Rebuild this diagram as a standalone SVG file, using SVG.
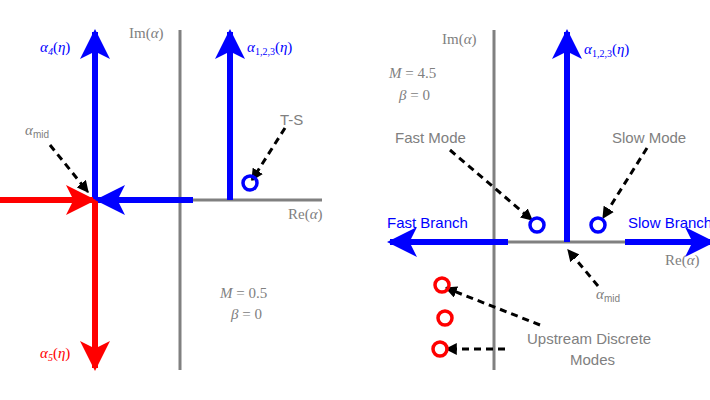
<svg xmlns="http://www.w3.org/2000/svg" width="710" height="400" viewBox="0 0 710 400">
<defs>
<marker id="hb" viewBox="0 0 10 10" refX="9" refY="5" markerWidth="5" markerHeight="5" markerUnits="strokeWidth" orient="auto"><path d="M0,0 L10,5 L0,10 L2.5,5 z" fill="#0000ff"/></marker>
<marker id="hr" viewBox="0 0 10 10" refX="9" refY="5" markerWidth="5" markerHeight="5" markerUnits="strokeWidth" orient="auto"><path d="M0,0 L10,5 L0,10 L2.5,5 z" fill="#ff0000"/></marker>
<marker id="hk" viewBox="0 0 10 10" refX="9" refY="5" markerWidth="4" markerHeight="4" markerUnits="strokeWidth" orient="auto"><path d="M0,0 L10,5 L0,10 z" fill="#000"/></marker>
</defs>
<style>
.ax{stroke:#808080;stroke-width:3;fill:none}
.b{stroke:#0000ff;stroke-width:6;fill:none}
.r{stroke:#ff0000;stroke-width:6;fill:none}
.d{stroke:#000;stroke-width:3;stroke-dasharray:7,5;fill:none}
.cb{stroke:#0000ff;stroke-width:3.5;fill:none}
.cr{stroke:#ff0000;stroke-width:3.5;fill:none}
.m{font-family:'Liberation Serif',serif;font-style:italic;font-size:15px}
.s{font-family:'Liberation Serif',serif;font-size:15px;fill:#808080}
.t{font-family:'Liberation Sans',sans-serif;font-size:15px}
.g{fill:#808080}
.bl{fill:#0000ff}
.rd{fill:#ff0000}
</style>
<g id="connectors">
<line class="ax" x1="180" y1="30" x2="180" y2="370"/>
<line class="ax" x1="190" y1="200" x2="322" y2="200"/>
<line class="b" x1="95" y1="200" x2="95" y2="32" marker-end="url(#hb)"/>
<line class="r" x1="0" y1="200" x2="93" y2="200" marker-end="url(#hr)"/>
<line class="r" x1="95" y1="200" x2="95" y2="368" marker-end="url(#hr)"/>
<line class="b" x1="193" y1="200" x2="98" y2="200" marker-end="url(#hb)"/>
<line class="b" x1="230" y1="200" x2="230" y2="32" marker-end="url(#hb)"/>
<line class="d" x1="50" y1="145" x2="88" y2="192" marker-end="url(#hk)"/>
<line class="d" x1="285" y1="128" x2="252" y2="180" marker-end="url(#hk)"/>
<line class="ax" x1="494" y1="30" x2="494" y2="370"/>
<line class="ax" x1="505" y1="242" x2="630" y2="242"/>
<line class="b" x1="508" y1="242" x2="390" y2="242" marker-end="url(#hb)"/>
<line class="b" x1="625" y1="242" x2="712" y2="242" marker-end="url(#hb)"/>
<line class="b" x1="567" y1="242" x2="567" y2="32" marker-end="url(#hb)"/>
<line class="d" x1="450" y1="150" x2="532" y2="220" marker-end="url(#hk)"/>
<line class="d" x1="647" y1="148" x2="603" y2="218" marker-end="url(#hk)"/>
<line class="d" x1="598" y1="286" x2="568" y2="250" marker-end="url(#hk)"/>
<line class="d" x1="540" y1="325" x2="446" y2="288" marker-end="url(#hk)"/>
<line class="d" x1="505" y1="349" x2="446" y2="349" marker-end="url(#hk)"/>
</g>
<g id="nodes">
<circle class="cb" cx="250" cy="183" r="7"/>
<circle class="cb" cx="537" cy="225" r="7"/>
<circle class="cb" cx="598" cy="225" r="7"/>
<circle class="cr" cx="442" cy="285" r="7"/>
<circle class="cr" cx="445" cy="318" r="7"/>
<circle class="cr" cx="440" cy="349" r="7"/>
</g>
<g id="labels">
<text class="m bl" x="40" y="52">α<tspan font-size="10" dy="3">4</tspan><tspan dy="-3" font-style="normal">(</tspan>η<tspan font-style="normal">)</tspan></text>
<text class="m bl" x="247" y="52">α<tspan font-size="10" dy="3" font-style="normal">1,2,3</tspan><tspan dy="-3" font-style="normal">(</tspan>η<tspan font-style="normal">)</tspan></text>
<text class="m rd" x="40" y="358">α<tspan font-size="10" dy="3">5</tspan><tspan dy="-3" font-style="normal">(</tspan>η<tspan font-style="normal">)</tspan></text>
<text class="s" x="129" y="38">Im(<tspan font-style="italic">α</tspan>)</text>
<text class="s" x="288" y="219">Re(<tspan font-style="italic">α</tspan>)</text>
<text class="t g" x="280" y="125">T-S</text>
<text class="m g" x="25" y="135">α<tspan font-style="normal" font-family="Liberation Sans,sans-serif" font-size="10" dy="3">mid</tspan></text>
<text class="m g" x="220" y="298">M <tspan font-style="normal">= 0.5</tspan></text>
<text class="m g" x="231" y="319">β <tspan font-style="normal">= 0</tspan></text>
<text class="s" x="442" y="44">Im(<tspan font-style="italic">α</tspan>)</text>
<text class="m bl" x="584" y="54">α<tspan font-size="10" dy="3" font-style="normal">1,2,3</tspan><tspan dy="-3" font-style="normal">(</tspan>η<tspan font-style="normal">)</tspan></text>
<text class="m g" x="389" y="78">M <tspan font-style="normal">= 4.5</tspan></text>
<text class="m g" x="399" y="100">β <tspan font-style="normal">= 0</tspan></text>
<text class="t g" x="395" y="143">Fast Mode</text>
<text class="t g" x="612" y="143">Slow Mode</text>
<text class="t bl" x="387" y="228">Fast Branch</text>
<text class="t bl" x="628" y="228">Slow Branch</text>
<text class="s" x="665" y="265">Re(<tspan font-style="italic">α</tspan>)</text>
<text class="m g" x="596" y="299">α<tspan font-style="normal" font-family="Liberation Sans,sans-serif" font-size="10" dy="3">mid</tspan></text>
<text class="t g" x="527" y="344">Upstream Discrete</text>
<text class="t g" x="570" y="365">Modes</text>
</g>
</svg>
